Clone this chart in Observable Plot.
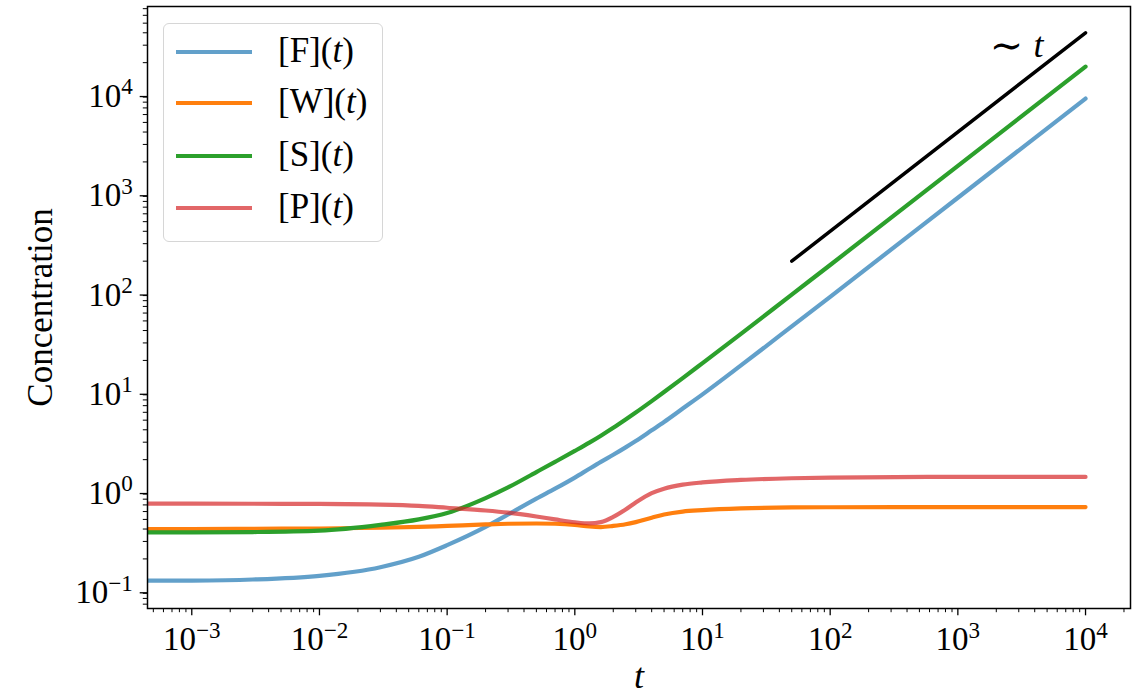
<!DOCTYPE html>
<html>
<head>
<meta charset="utf-8">
<script src="https://cdn.jsdelivr.net/npm/d3@7"></script>
<script src="https://cdn.jsdelivr.net/npm/@observablehq/plot@0.6"></script>
<style>
  body { margin: 0; background: #fff; }
  #wrap { position: relative; width: 1145px; height: 695px; font-family: "Liberation Serif", "DejaVu Serif", serif; }
  #legend { position: absolute; left: 163px; top: 23px; width: 220px; height: 219px; box-sizing: border-box;
            border: 1.5px solid #d6d6d6; border-radius: 6px; background: rgba(255,255,255,0.8); }
  .row { position: absolute; left: 0; width: 100%; height: 0; }
  .row svg { position: absolute; left: 12px; top: -3px; }
  .row span { position: absolute; left: 114px; top: 0; transform: translateY(-55%); font-size: 35px; line-height: 1; white-space: nowrap; color: #000; }
</style>
</head>
<body>
<div id="wrap"></div>
<script>
// ---- data ----
const t = [1e-4, 1e-3, 3e-3, 0.01, 0.03, 0.06, 0.1, 0.2, 0.3, 0.5, 0.7, 1, 1.3, 1.6, 2, 2.5, 3, 4, 5, 7, 10, 20, 50, 100, 1e3, 1e4];
const F = [0.12, 0.121, 0.124, 0.135, 0.165, 0.21, 0.275, 0.42, 0.56, 0.81, 1.02, 1.32, 1.62, 1.9, 2.24, 2.66, 3.08, 3.95, 4.8, 6.55, 9.1, 17.8, 44, 87.5, 871, 8700];
const W = [0.40, 0.40, 0.402, 0.405, 0.412, 0.42, 0.43, 0.445, 0.452, 0.455, 0.452, 0.44, 0.424, 0.419, 0.43, 0.447, 0.47, 0.52, 0.56, 0.60, 0.62, 0.645, 0.66, 0.663, 0.665, 0.665];
const S = [0.37, 0.37, 0.373, 0.385, 0.44, 0.50, 0.58, 0.82, 1.05, 1.5, 1.9, 2.45, 2.97, 3.49, 4.19, 5.08, 5.97, 7.78, 9.6, 13.26, 18.77, 37, 92, 183, 1825, 18250];
const P = [0.72, 0.72, 0.719, 0.716, 0.705, 0.685, 0.655, 0.615, 0.585, 0.535, 0.5, 0.468, 0.456, 0.47, 0.53, 0.63, 0.74, 0.92, 1.02, 1.12, 1.18, 1.25, 1.30, 1.32, 1.34, 1.34];

const seriesKeys = ["F", "W", "S", "P"];
const seriesValues = [F, W, S, P];
const seriesColors = ["#1f77b4", "#ff7f0e", "#2ca02c", "#d62728"];
const seriesOpacity = [0.7, 1, 1, 0.7];

const slopeT = [50, 1e4];
const slopeC = [200, 4e4];
const slopeLabelT = [2400];
const slopeLabelC = [29600];

const majorX = [1e-3, 1e-2, 1e-1, 1, 10, 100, 1e3, 1e4];
const majorY = [1e-1, 1, 10, 100, 1e3, 1e4];
const xDomain = [4.5e-4, 2.25e4];
const yDomain = [0.0633, 73600];

// ---- helpers ----
const fmt = d => "10^" + Math.round(Math.log10(d));
function minorTicks(major, lo, hi) {
  const out = [];
  const all = [major[0] / 10, ...major];
  for (const m of all) for (let k = 2; k <= 9; k++) { const v = m * k; if (v >= lo && v <= hi) out.push(v); }
  return out;
}
const minorX = minorTicks(majorX, xDomain[0], xDomain[1]);
const minorY = minorTicks(majorY, yDomain[0], yDomain[1]);

const lineMarks = seriesKeys.map((k, i) => Plot.line(
  t.map((ti, j) => ({t: ti, c: seriesValues[i][j]})),
  {x: "t", y: "c", stroke: seriesColors[i], strokeOpacity: seriesOpacity[i], strokeWidth: 4.2, curve: "monotone-x", clip: true}
));

const slopeData = slopeT.map((ti, j) => ({t: ti, c: slopeC[j]}));
const labelData = slopeLabelT.map((ti, j) => ({t: ti, c: slopeLabelC[j]}));

const chart = Plot.plot({
  width: 1145,
  height: 695,
  marginLeft: 147,
  marginRight: 15,
  marginTop: 6,
  marginBottom: 87,
  style: {fontFamily: "'Liberation Serif', 'DejaVu Serif', serif", fontSize: "33px", background: "#fff", color: "#000"},
  x: {type: "log", domain: xDomain},
  y: {type: "log", domain: yDomain},
  marks: [
    ...lineMarks,
    Plot.line(slopeData, {x: "t", y: "c", stroke: "black", strokeWidth: 3.5}),
    Plot.text(labelData, {x: "t", y: "c", text: () => "\u223C", fontSize: 40, textAnchor: "middle", lineAnchor: "middle"}),
    Plot.text(labelData, {x: "t", y: "c", text: () => "t", fontSize: 36, fontStyle: "italic", dx: 32, textAnchor: "middle", lineAnchor: "middle"}),
    Plot.axisX(majorX, {tickSize: 7.3, tickPadding: 11, tickFormat: fmt, fontSize: 33, strokeWidth: 1.3, label: null}),
    Plot.axisX(minorX, {tickSize: 4.2, tickFormat: () => "", strokeWidth: 1, label: null}),
    Plot.axisY(majorY, {tickSize: 7.3, tickPadding: 7.3, tickFormat: fmt, fontSize: 33, strokeWidth: 1.3, dy: 4, label: null}),
    Plot.axisY(minorY, {tickSize: 4.2, tickFormat: () => "", strokeWidth: 1, label: null}),
    Plot.frame({stroke: "black", strokeWidth: 1.5}),
    Plot.text(["Concentration"], {frameAnchor: "left", text: d => d, dx: -107, rotate: -90, fontSize: 35, textAnchor: "middle", lineAnchor: "middle"}),
    Plot.text(["t"], {frameAnchor: "bottom", text: d => d, dy: 68, fontSize: 36, fontStyle: "italic", textAnchor: "middle", lineAnchor: "middle"})
  ]
});

// turn "10^k" tick labels into 10 with a raised exponent (still real text)
chart.querySelectorAll("text").forEach(el => {
  const m = /^10\^(-?\d+)$/.exec(el.textContent.trim());
  if (!m) return;
  const ns = "http://www.w3.org/2000/svg";
  el.textContent = "";
  const base = document.createElementNS(ns, "tspan");
  base.textContent = "10";
  const sup = document.createElementNS(ns, "tspan");
  sup.setAttribute("font-size", "0.7em");
  sup.setAttribute("dy", "-0.55em");
  sup.textContent = m[1].replace("-", "\u2212");
  el.appendChild(base);
  el.appendChild(sup);
});

const wrap = document.getElementById("wrap");
wrap.appendChild(chart);

// legend (HTML overlay)
const legend = document.createElement("div");
legend.id = "legend";
const rowTops = [27.7, 79.3, 132, 183.7];
seriesKeys.forEach((k, i) => {
  const row = document.createElement("div");
  row.className = "row";
  row.style.top = rowTops[i] + "px";
  row.innerHTML = `<svg width="76" height="6"><line x1="0" x2="76" y1="3" y2="3" stroke="${seriesColors[i]}" stroke-opacity="${seriesOpacity[i]}" stroke-width="4"/></svg><span>[${k}](<i>t</i>)</span>`;
  legend.appendChild(row);
});
wrap.appendChild(legend);
</script>
</body>
</html>
